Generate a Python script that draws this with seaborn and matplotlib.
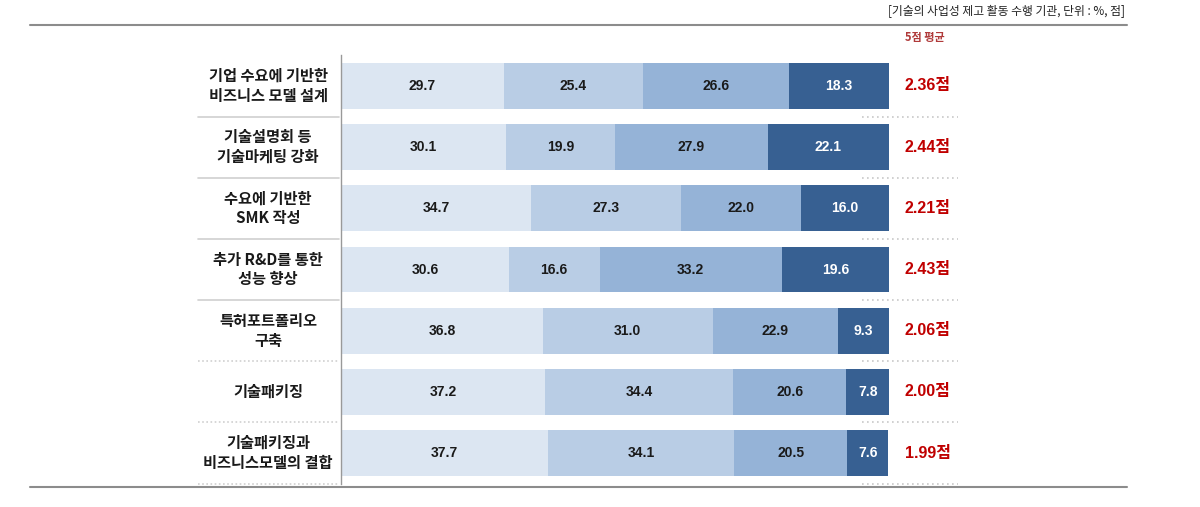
import numpy as np
import pandas as pd
import matplotlib
matplotlib.use("Agg")
import matplotlib.pyplot as plt
import seaborn as sns
from matplotlib.lines import Line2D

# 항목 및 응답 비율 (%)
categories = ["기업 수요에 기반한\n비즈니스 모델 설계", "기술설명회 등\n기술마케팅 강화", "수요에 기반한\nSMK 작성",
              "추가 R&D를 통한\n성능 향상", "특허포트폴리오\n구축", "기술패키징", "기술패키징과\n비즈니스모델의 결합"]
seg1 = [29.7, 30.1, 34.7, 30.6, 36.8, 37.2, 37.7]
seg2 = [25.4, 19.9, 27.3, 16.6, 31.0, 34.4, 34.1]
seg3 = [26.6, 27.9, 22.0, 33.2, 22.9, 20.6, 20.5]
seg4 = [18.3, 22.1, 16.0, 19.6, 9.3, 7.8, 7.6]
scores = [2.36, 2.44, 2.21, 2.43, 2.06, 2.00, 1.99]

colors = ["#DCE6F2", "#B9CDE5", "#95B3D7", "#376092"]
text_colors = ["#1a1a1a", "#1a1a1a", "#1a1a1a", "white"]

sns.set_style("white")
plt.rcParams['font.family'] = ['Noto Sans CJK KR', 'DejaVu Sans']
num_font = ['Liberation Sans Narrow', 'Liberation Sans', 'Noto Sans CJK KR']

segs = [seg1, seg2, seg3, seg4]
df = pd.DataFrame({"cat": categories})
cum = np.zeros(len(categories))
for i, s in enumerate(segs):
    cum = cum + np.array(s)
    df[f"c{i}"] = cum

fig = plt.figure(figsize=(12, 5.07), dpi=100)
W, H = 1200, 507
ax = fig.add_axes([341 / W, (H - 483.6) / H, 548 / W, 428.2 / H])

# 누적 막대 (큰 누적값부터 그리기)
for i in range(3, -1, -1):
    sns.barplot(data=df, x=f"c{i}", y="cat", color=colors[i], width=0.75,
                orient="h", ax=ax, saturation=1, linewidth=0)

ax.set_xlim(0, 100)
ax.set_ylim(6.5, -0.5)
ax.set_xticks([])
ax.set_yticks([])
ax.set_xlabel("")
ax.set_ylabel("")
for sp in ["top", "right", "bottom"]:
    ax.spines[sp].set_visible(False)
ax.spines["left"].set_color("#999999")
ax.spines["left"].set_linewidth(1)

# 막대 내부 값
for r in range(len(categories)):
    left = 0
    for i, s in enumerate(segs):
        v = s[r]
        ax.text(left + v / 2, r, f"{v:.1f}", ha="center", va="center",
                fontsize=10, fontweight="bold", color=text_colors[i], family=num_font)
        left += v
    # 왼쪽 항목명
    ax.text(-13.3, r, categories[r], ha="center", va="center", fontsize=11,
            fontweight="bold", color="#1a1a1a", linespacing=1.3, clip_on=False)
    # 평균 점수
    ax.text(107.1, r, f"{scores[r]:.2f}점", ha="center", va="center", fontsize=11.5,
            fontweight="bold", color="#C00000", family=num_font, clip_on=False)
    # 구분선
    ls_left = "-" if r < 4 else (0, (1, 1.5))
    ax.plot([-26.1, -0.3], [r + 0.5, r + 0.5], color="#d0d0d0", lw=1.2, ls=ls_left, clip_on=False)
    ax.plot([95.1, 112.6], [r + 0.5, r + 0.5], color="#c8c8c8", lw=1.2, ls=(0, (1, 2)), clip_on=False)

fig.text(925 / W, 1 - 37 / H, "5점 평균", ha="center", va="center", fontsize=8,
         fontweight="bold", color="#B03A3A")
fig.text(1125 / W, 1 - 12 / H, "[기술의 사업성 제고 활동 수행 기관, 단위 : %, 점]", ha="right",
         va="center", fontsize=8.5, color="#222222")

fig.add_artist(Line2D([30 / W, 1127 / W], [1 - 25 / H, 1 - 25 / H], color="#8c8c8c", lw=1.5))
fig.add_artist(Line2D([30 / W, 1127 / W], [1 - 487 / H, 1 - 487 / H], color="#8c8c8c", lw=1.5))

fig.savefig("out.png", dpi=100, facecolor="white")
